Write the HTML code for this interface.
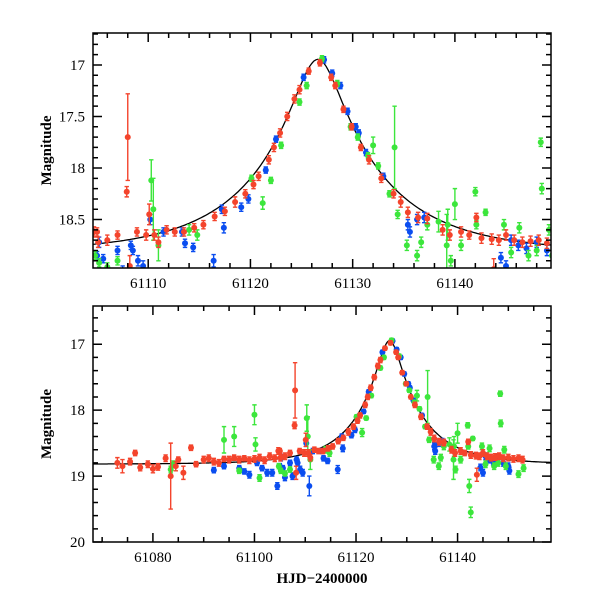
<!DOCTYPE html>
<html><head><meta charset="utf-8"><style>
html,body{margin:0;padding:0;background:#fff;}
svg text{font-family:"Liberation Serif","DejaVu Serif",serif;font-size:15px;fill:#000;}
</style></head><body>
<svg id="chart" width="600" height="600" viewBox="0 0 600 600" xmlns="http://www.w3.org/2000/svg"></svg>
<script>
// model parameters (baseline mag, t0, u0, tE)
const modelParams = [18.82, 61126.6, 0.18, 12.0];
// red series
const redT = [61073,61074,61075.5,61076.5,61077.5,61079,61080,61081,61082.5,61083.5,61084.5,61085,61086,61087.5,61088.5,61090,61091,61092,61093,61094,61095,61096,61097,61098,61099,61100,61101,61102,61103,61104,61105,61106,61104.7,61105.1,61107,61107.9,61108,61108.2,61108.9,61109.8,61110.1,61110.6,61111,61111.8,61112.6,61113.5,61114.5,61115.4,61116.5,61117.5,61118.5,61119.5,61120.3,61120.8,61121.8,61122.3,61122.9,61123.6,61124.3,61124.8,61125.7,61126.8,61127.9,61128.3,61129.1,61129.9,61130.8,61131.6,61132.8,61134.0,61134.7,61135.4,61136.4,61137.3,61138.8,61139.5,61140.6,61141.4,61142.1,61142.6,61143.6,61144.3,61145.0,61145.8,61146.6,61147.4,61148.2,61149.0,61150,61151,61152,61152.8,61143.8];
const redM = [18.8,18.85,18.78,18.65,18.87,18.82,18.89,18.86,18.73,19.0,18.85,18.75,18.95,18.57,18.82,18.75,18.73,18.78,18.8,18.74,18.75,18.72,18.75,18.73,18.76,18.74,18.72,18.76,18.7,18.73,18.62,18.7,18.62,18.72,18.65,18.23,17.7,18.95,18.62,18.65,18.45,18.65,18.72,18.6,18.62,18.62,18.58,18.55,18.47,18.42,18.33,18.25,18.16,18.08,17.92,17.8,17.66,17.5,17.33,17.24,17.06,16.98,17.12,17.2,17.43,17.6,17.8,17.92,18.1,18.25,18.33,18.43,18.48,18.49,18.6,18.65,18.62,18.65,18.48,18.68,18.69,18.7,18.65,18.7,18.72,18.71,18.7,18.73,18.72,18.74,18.73,18.75,18.98];
const redE = [0.08,0.1,0.05,0.04,0.05,0.05,0.06,0.05,0.05,0.5,0.07,0.04,0.1,0.04,0.04,0.05,0.05,0.05,0.05,0.04,0.05,0.04,0.05,0.04,0.05,0.05,0.05,0.05,0.05,0.05,0.04,0.05,0.05,0.05,0.04,0.05,0.42,0.1,0.04,0.05,0.1,0.05,0.05,0.04,0.04,0.04,0.04,0.04,0.04,0.04,0.05,0.04,0.04,0.04,0.04,0.04,0.04,0.04,0.04,0.04,0.03,0.03,0.03,0.03,0.03,0.03,0.03,0.04,0.04,0.04,0.05,0.05,0.05,0.05,0.05,0.05,0.05,0.04,0.04,0.05,0.05,0.05,0.05,0.05,0.05,0.05,0.05,0.05,0.05,0.05,0.05,0.05,0.1];
// blue series
const blueT = [61092,61094,61097,61098,61099,61100.5,61101.5,61102.5,61103.5,61104.5,61105,61105.2,61105.6,61106,61107,61107.5,61108.3,61108.5,61109,61109.5,61110.2,61110.8,61111.5,61113.3,61113.6,61114.4,61116.4,61117.2,61117.4,61119.1,61119.8,61121.5,61122.5,61125.2,61127.2,61128,61128.8,61129.5,61130.3,61130.6,61131.3,61133,61135.4,61135.6,61136.3,61137,61144.5,61145,61145.5,61146.2,61147,61148,61149,61150,61150.2];
const blueM = [18.91,18.85,18.88,18.93,18.98,18.8,18.88,18.95,18.95,19.15,18.85,18.72,18.88,19.02,18.8,19.0,18.75,18.8,18.9,18.95,18.5,19.15,18.62,18.62,18.73,18.77,18.9,18.4,18.58,18.38,18.3,18.02,17.72,17.12,16.95,17.08,17.2,17.45,17.6,17.66,17.85,18.08,18.55,18.62,18.5,18.48,18.87,18.95,18.7,18.75,18.78,18.72,18.8,18.85,18.92];
const blueE = [0.04,0.04,0.04,0.04,0.05,0.04,0.04,0.05,0.05,0.05,0.04,0.05,0.04,0.05,0.04,0.05,0.04,0.04,0.05,0.05,0.05,0.15,0.04,0.04,0.04,0.04,0.06,0.04,0.05,0.04,0.04,0.03,0.03,0.03,0.03,0.03,0.03,0.03,0.03,0.03,0.03,0.03,0.05,0.05,0.05,0.05,0.05,0.05,0.05,0.05,0.05,0.05,0.05,0.05,0.05];
// green series
const greenT = [61083.5,61084,61094,61096,61097,61100,61100.2,61101,61104.8,61105.2,61106,61107,61110.3,61110.5,61111,61114,61114.8,61120.1,61121.2,61122,61123,61124.8,61125.5,61127,61128.5,61129.8,61130.5,61131.5,61132,61132.5,61133.6,61134.1,61134.4,61135.3,61136.3,61136.7,61137.3,61138.4,61139.3,61139.2,61139.6,61140,61140.6,61142,61142.1,61142.3,61143,61144.8,61145.5,61146.3,61147.2,61148,61148.4,61148.5,61149.2,61149.5,61152,61153,61142.6];
const greenM = [18.9,18.82,18.45,18.4,18.92,18.07,18.52,19.03,18.85,18.92,18.96,18.9,18.12,18.4,18.75,18.6,18.65,18.1,18.34,18.12,17.78,17.36,17.2,16.94,17.18,17.6,17.7,17.88,17.78,17.98,18.25,17.8,18.45,18.75,18.85,18.72,18.55,18.52,18.55,18.75,18.9,18.35,18.75,18.23,18.55,19.15,18.43,18.55,18.82,18.58,18.85,18.8,17.75,18.2,18.6,18.85,18.97,18.88,19.55];
const greenE = [0.05,0.05,0.2,0.15,0.04,0.15,0.1,0.05,0.04,0.04,0.04,0.04,0.2,0.3,0.15,0.05,0.05,0.03,0.06,0.03,0.03,0.03,0.03,0.03,0.03,0.03,0.03,0.03,0.08,0.03,0.03,0.4,0.04,0.05,0.05,0.05,0.05,0.1,0.15,0.3,0.05,0.15,0.05,0.04,0.04,0.1,0.03,0.05,0.05,0.05,0.05,0.05,0.04,0.05,0.05,0.05,0.05,0.05,0.08];
// axis ticks
const topXTicks = [61110,61120,61130,61140];
const topYTicks = ["17","17.5","18","18.5"];
const botXTicks = [61080,61100,61120,61140];
const botYTicks = ["17","18","19","20"];

const NS = "http://www.w3.org/2000/svg";
const svg = document.getElementById('chart');
function mk(tag, attrs, parent){const e=document.createElementNS(NS,tag);for(const k in attrs)e.setAttribute(k,attrs[k]);(parent||svg).appendChild(e);return e;}

const panels = [
 {name:'top', x0:93,x1:551,y0:33,y1:268, tmin:61104.6,tmax:61149.4, mmin:16.69,mmax:18.97, xt:topXTicks, yt:topYTicks, xminor:2, yminor:0.1, ymajor:0.5},
 {name:'bottom', x0:93,x1:551,y0:306,y1:542, tmin:61068.2,tmax:61158.4, mmin:16.42,mmax:20.0, xt:botXTicks, yt:botYTicks, xminor:5, yminor:0.2, ymajor:1}
];
const series = [
 {name:'blue', T:blueT,M:blueM,E:blueE,color:'#0a4df0'},
 {name:'green', T:greenT,M:greenM,E:greenE,color:'#3ce63c'},
 {name:'red', T:redT,M:redM,E:redE,color:'#f4442c'}
];
function model(t){const [b,t0,u0,tE]=modelParams;const u=Math.sqrt(u0*u0+((t-t0)/tE)**2);const A=(u*u+2)/(u*Math.sqrt(u*u+4));return b-2.5*Math.log10(A);}

panels.forEach((p,pi)=>{
 const X=t=>p.x0+(t-p.tmin)/(p.tmax-p.tmin)*(p.x1-p.x0);
 const Y=m=>p.y0+(m-p.mmin)/(p.mmax-p.mmin)*(p.y1-p.y0);
 const g=mk('g',{});
 
 
 const cid='clip'+pi;
 const cp=mk('clipPath',{id:cid},g);mk('rect',{x:p.x0,y:p.y0,width:p.x1-p.x0,height:p.y1-p.y0},cp);
 const plot=mk('g',{'clip-path':'url(#'+cid+')'},g);
 let d='';for(let t=p.tmin;t<=p.tmax;t+=0.2){d+=(d?'L':'M')+X(t).toFixed(1)+','+Y(model(t)).toFixed(1);}
 const ml=mk('path',{d:d,fill:'none',stroke:'#000','stroke-width':1.3},plot);
 
 
 series.forEach(s=>{
  const sg=mk('g',{stroke:s.color,fill:s.color,'stroke-width':1.4},plot);
  
  
  s.T.forEach((t,i)=>{
   const x=X(t),y=Y(s.M[i]),ya=Y(s.M[i]-s.E[i]),yb=Y(s.M[i]+s.E[i]);
   mk('path',{d:`M${x},${ya}V${yb}M${x-2.2},${ya}H${x+2.2}M${x-2.2},${yb}H${x+2.2}`,fill:'none'},sg);
   const c=mk('circle',{cx:x,cy:y,r:3,stroke:'none'},sg);
   
   
  });
 });
 const fr=mk('rect',{x:p.x0,y:p.y0,width:p.x1-p.x0,height:p.y1-p.y0,fill:'none',stroke:'#000','stroke-width':1.5},g);
 
 
 let td='';
 for(let t=Math.ceil(p.tmin/p.xminor)*p.xminor;t<=p.tmax;t+=p.xminor){
  const major=Math.abs(t/10-Math.round(t/10))<1e-6 && (p.xminor===2?true:Math.abs(t/20-Math.round(t/20))<1e-6);
  const L=major?9:5;const x=X(t);
  td+=`M${x},${p.y1}v${-L}M${x},${p.y0}v${L}`;
 }
 for(let k=Math.ceil(p.mmin/p.yminor-1e-6);k*p.yminor<=p.mmax+1e-6;k++){
  const m=k*p.yminor;const r=m/p.ymajor;const major=Math.abs(r-Math.round(r))<1e-6;
  const L=major?9:5;const y=Y(m);
  td+=`M${p.x0},${y}h${L}M${p.x1},${y}h${-L}`;
 }
 mk('path',{d:td,stroke:'#000','stroke-width':1.5,fill:'none'},g);
 p.xt.forEach(t=>{const tx=mk('text',{x:X(t),y:p.y1+20,'text-anchor':'middle'},g);tx.textContent=t;
  
  });
 p.yt.forEach(v=>{const tx=mk('text',{x:p.x0-8,y:Y(parseFloat(v))+5,'text-anchor':'end'},g);tx.textContent=v;
  
  });
 const yl=mk('text',{x:0,y:0,'text-anchor':'middle',transform:`translate(51,${(p.y0+p.y1)/2}) rotate(-90)`,'font-weight':'bold','font-size':'14'},g);
 yl.textContent='Magnitude';
 
 
});
const xl=mk('text',{x:322,y:583,'text-anchor':'middle','font-weight':'bold','font-size':'14'});
xl.textContent='HJD\u22122400000';


</script>
</body></html>
